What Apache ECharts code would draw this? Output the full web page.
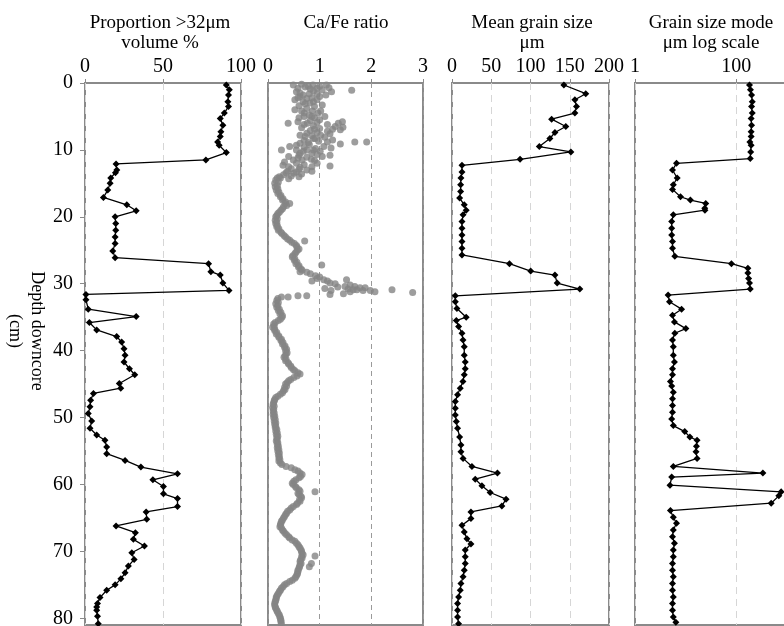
<!DOCTYPE html>
<html>
<head>
<meta charset="utf-8">
<script src="https://cdn.jsdelivr.net/npm/echarts@6/dist/echarts.min.js"></script>
<style>html,body{margin:0;padding:0;background:#fff}#chart{width:784px;height:626px}</style>
</head>
<body>
<div id="chart"></div>
<script>
// ---------- DATA ----------
const panelTitles = ['Proportion >32\u03bcm\nvolume %', 'Ca/Fe ratio', 'Mean grain size\n\u03bcm', 'Grain size mode\n\u03bcm log scale'];
const yAxisTitle = 'Depth downcore\n(cm)';

// Proportion >32um (volume %)
const propDepth = [0.3,1.0,1.8,2.8,3.5,4.5,5.3,6.3,7.3,8.0,8.8,9.3,10.4,11.5,12.1,13.0,13.4,14.2,15.0,16.0,17.1,18.2,19.1,20.0,21.0,22.0,23.0,24.0,25.1,26.1,27.0,28.2,28.7,29.9,31.0,31.6,32.4,33.8,34.9,35.8,36.9,37.9,38.7,39.7,40.7,41.7,42.7,43.6,44.9,45.6,46.4,47.4,48.4,49.4,50.5,51.6,52.6,53.4,54.4,55.4,56.4,57.4,58.4,59.3,60.3,61.4,62.1,63.3,64.1,65.2,66.2,67.2,68.2,69.2,70.2,71.2,72.2,73.2,74.1,75.0,75.8,76.9,77.8,78.3,78.8,79.7,80.8];
const propValue = [90.6,92.5,92,91.6,92,89.3,86.7,88.4,87.1,86.7,85,86,90.6,77.5,19.9,20.4,19.5,16.5,16.1,14.6,11.8,26.8,32.8,19.3,19.7,19.7,19.3,19.3,17.8,19.3,79.2,80.7,86.7,88.4,92.3,0.6,0.6,2.1,32.8,2.8,7.5,20.3,23.5,25,25.7,25,28.5,31.9,22,22.9,5.4,3.6,3.2,2.1,4.3,3.2,7.5,12.8,13.9,13.9,25.7,35.8,59.3,43.5,50.3,50.3,59.3,59.3,39.2,39.6,19.9,32.3,31,38.1,30,31.5,27.8,25.7,23,19.3,13.9,9.6,8,7.5,7.5,8,8.5];

// Ca/Fe ratio: [ratio, depth]
const caFeTop = [[0.49,0.3],[0.65,0.2],[0.87,0.3],[1.13,0.3],[0.72,0.6],[0.78,0.5],[0.95,0.8],[1.23,1.3],[1.62,1.1],[0.55,1.3],[0.68,1.8],[0.80,1.6],[0.88,1.2],[1.05,1.0],[0.62,2.0],[0.75,2.3],[0.52,2.5],[0.68,2.8],[0.88,2.8],[0.81,3.0],[0.95,2.5],[1.05,3.3],[0.60,3.4],[0.52,4.0],[0.75,3.8],[0.86,4.2],[0.70,4.5],[0.97,4.5],[1.10,5.0],[0.90,5.2],[0.70,5.0],[0.82,5.6],[0.95,5.9],[0.58,5.8],[0.39,6.0],[0.76,6.0],[1.15,6.2],[0.88,6.4],[0.65,6.7],[1.00,6.8],[1.36,6.0],[1.44,5.8],[1.30,6.5],[1.40,7.0],[1.45,6.6],[0.82,7.1],[1.15,7.2],[0.75,7.5],[0.95,7.4],[1.02,7.8],[0.85,7.9],[0.72,8.0],[1.20,7.6],[0.91,8.3],[1.10,8.1],[0.70,8.6],[0.98,8.7],[1.25,8.5],[1.40,9.1],[1.68,8.8],[1.91,8.8],[0.62,9.0],[0.80,9.2],[1.08,9.5],[0.92,9.8],[0.42,9.5],[0.26,10.0],[0.55,10.0],[0.75,10.0],[0.68,10.2],[1.01,10.2],[0.85,10.5],[0.60,10.8],[1.20,10.8],[1.05,11.0],[0.75,11.1],[0.49,11.5],[0.66,11.5],[0.84,11.4],[0.32,11.8],[0.55,12.0],[0.95,12.0],[0.70,12.2],[1.20,12.4],[0.29,12.3],[0.85,12.5],[0.45,12.8],[0.62,12.6],[0.38,13.2],[0.55,13.3],[0.75,13.0],[0.50,13.5],[0.30,13.7],[0.45,13.9],[0.60,14.0],[0.22,14.0],
  [0.58,0.8],[0.82,0.9],[1.00,0.5],[1.18,0.7],[0.62,1.5],[0.95,1.6],[1.12,1.8],[0.58,2.2],[0.85,2.2],[1.00,2.0],[0.72,3.1],[0.90,3.5],[0.65,4.2],[0.80,4.8],[1.02,4.2],[0.60,5.2],[0.85,5.0],[1.00,5.5],[0.70,6.2],[0.90,6.9],[1.25,6.9],[0.62,7.8],[0.88,8.3],[1.15,8.8],[0.78,8.9],[0.55,9.3],[0.70,9.6],[1.22,9.7],[0.88,10.0],[0.62,10.5],[0.95,10.7],[0.40,11.0],[0.58,11.2],[0.90,11.6],[0.40,12.5],[0.60,12.9],[0.85,13.2],[0.35,13.4],[0.65,13.6],[0.40,14.3]];
const caFeUpper = [[0.18,14.2],[0.24,14.2],[0.15,14.5],[0.20,14.8],[0.13,15.0],[0.18,15.3],[0.14,15.5],[0.19,15.8],[0.16,16.0],[0.21,16.3],[0.19,16.5],[0.25,16.8],[0.24,17.0],[0.29,17.3],[0.28,17.5],[0.34,17.8],[0.33,18.0],[0.36,18.3],[0.42,18.0],[0.30,18.5],[0.28,18.8],[0.25,19.0],[0.22,19.3],[0.19,19.5],[0.17,19.8],[0.15,20.0],[0.18,20.3],[0.14,20.5],[0.17,20.8],[0.15,21.0],[0.18,21.3],[0.17,21.5],[0.21,21.8],[0.20,22.0],[0.25,22.3],[0.27,22.5],[0.31,22.8],[0.34,23.0],[0.38,23.3],[0.42,23.5],[0.71,23.6],[0.46,23.8],[0.51,24.0],[0.55,24.3],[0.56,24.5],[0.60,24.8],[0.57,25.0],[0.54,25.3],[0.52,25.5],[0.48,25.8],[0.47,26.0],[0.52,26.3],[0.51,26.5],[0.56,26.8],[0.54,27.0],[1.04,27.2],[0.60,27.3],[0.59,27.5],[0.64,27.8],[0.66,28.0],[0.62,28.2],[0.75,28.3],[0.82,28.5],[0.92,28.8],[1.00,29.0],[0.95,29.2],[1.08,29.4],[1.52,29.4],[0.85,29.6],[1.15,29.6],[1.20,29.9],[1.30,30.0],[1.59,30.2],[1.68,30.4],[1.49,30.4],[1.35,30.5],[1.78,30.6],[1.88,30.6],[1.10,30.7],[1.55,30.8],[1.72,30.9],[1.65,30.9],[1.84,31.0],[1.22,31.0],[1.59,31.2],[1.46,31.5],[1.20,31.6],[2.80,31.3],[2.40,30.9],[2.07,31.2],[1.98,31.0],[0.75,31.8],[0.58,31.8],[0.39,32.0],[0.26,32.0],[0.19,32.2]];
const caFeLower = [[0.17,32.5],[0.20,32.8],[0.15,33.0],[0.19,33.3],[0.17,33.5],[0.22,33.8],[0.20,34.0],[0.25,34.3],[0.23,34.5],[0.28,34.8],[0.27,35.0],[0.24,35.3],[0.20,35.5],[0.14,35.8],[0.11,36.0],[0.12,36.3],[0.09,36.5],[0.13,36.8],[0.13,37.0],[0.17,37.3],[0.16,37.5],[0.21,37.8],[0.21,38.0],[0.26,38.3],[0.25,38.5],[0.29,38.8],[0.28,39.0],[0.33,39.3],[0.32,39.5],[0.36,39.8],[0.34,40.0],[0.37,40.3],[0.35,40.5],[0.33,40.8],[0.31,41.0],[0.35,41.3],[0.34,41.5],[0.39,41.8],[0.40,42.0],[0.44,42.3],[0.45,42.5],[0.49,42.8],[0.52,43.0],[0.58,43.3],[0.62,43.5],[0.56,43.8],[0.50,44.0],[0.44,44.3],[0.40,44.5],[0.37,44.8],[0.34,45.0],[0.36,45.3],[0.32,45.5],[0.33,45.8],[0.30,46.0],[0.28,46.3],[0.24,46.5],[0.19,46.8],[0.15,47.0],[0.13,47.3],[0.12,47.5],[0.11,47.8],[0.10,48.0],[0.12,48.3],[0.09,48.5],[0.11,48.8],[0.10,49.0],[0.12,49.3],[0.10,49.5],[0.13,49.8],[0.11,50.0],[0.14,50.3],[0.12,50.5],[0.15,50.8],[0.13,51.0],[0.15,51.3],[0.14,51.5],[0.17,51.8],[0.15,52.0],[0.18,52.3],[0.16,52.5],[0.19,52.8],[0.17,53.0],[0.18,53.3],[0.16,53.5],[0.19,53.8],[0.18,54.0],[0.20,54.3],[0.18,54.5],[0.21,54.8],[0.19,55.0],[0.22,55.3],[0.20,55.5],[0.22,55.8],[0.21,56.0],[0.23,56.3],[0.21,56.5],[0.24,56.8],[0.27,57.0],[0.35,57.3],[0.45,57.5],[0.52,57.8],[0.58,58.0],[0.62,58.3],[0.66,58.5],[0.63,58.8],[0.60,59.0],[0.54,59.3],[0.50,59.5],[0.47,59.8],[0.49,60.0],[0.53,60.3],[0.55,60.5],[0.60,60.8],[0.62,61.0],[0.91,61.1],[0.58,61.3],[0.60,61.5],[0.64,61.8],[0.65,62.0],[0.61,62.3],[0.62,62.5],[0.57,62.8],[0.55,63.0],[0.49,63.3],[0.45,63.5],[0.42,63.8],[0.38,64.0],[0.36,64.3],[0.34,64.5],[0.32,64.8],[0.30,65.0],[0.28,65.3],[0.26,65.5],[0.25,65.8],[0.24,66.0],[0.23,66.3],[0.26,66.5],[0.28,66.8],[0.30,67.0],[0.33,67.3],[0.36,67.5],[0.40,67.8],[0.42,68.0],[0.47,68.3],[0.52,68.5],[0.55,68.8],[0.58,69.0],[0.60,69.3],[0.62,69.5],[0.64,69.8],[0.65,70.0],[0.66,70.3],[0.68,70.5],[0.91,70.7],[0.65,70.8],[0.66,71.0],[0.63,71.3],[0.62,71.5],[0.64,71.8],[0.84,71.8],[0.62,72.0],[0.80,72.3],[0.61,72.3],[0.60,72.5],[0.58,72.8],[0.58,73.0],[0.57,73.3],[0.56,73.5],[0.54,73.8],[0.52,74.0],[0.47,74.3],[0.42,74.5],[0.36,74.8],[0.32,75.0],[0.29,75.3],[0.26,75.5],[0.24,75.8],[0.22,76.0],[0.20,76.3],[0.18,76.5],[0.16,76.8],[0.16,77.0],[0.15,77.3],[0.14,77.5],[0.13,77.8],[0.13,78.0],[0.14,78.3],[0.15,78.5],[0.17,78.8],[0.18,79.0],[0.20,79.3],[0.22,79.5],[0.23,79.8],[0.24,80.0],[0.25,80.3],[0.25,80.5],[0.26,80.8]];

// Mean grain size (um)
const meanDepth = [0.3,1.6,2.5,3.5,4.5,5.4,6.5,7.4,8.3,9.5,10.3,11.4,12.3,13.3,14.2,15.2,16.2,17.2,18.2,19.0,19.7,20.7,21.7,22.7,23.7,24.7,25.7,27.0,28.1,28.7,29.9,30.8,31.8,32.7,33.7,35.0,35.5,36.4,37.4,38.4,39.4,40.7,41.7,42.7,43.6,44.6,45.6,46.6,47.6,48.6,49.6,50.6,51.6,52.9,54.1,55.1,56.1,57.3,58.3,59.2,60.2,61.2,62.2,63.2,64.1,65.1,66.1,67.1,68.1,68.9,69.8,70.8,71.8,72.8,73.8,74.8,75.8,76.8,77.8,78.8,79.8,80.8];
const meanValue = [142.5,170.4,156.5,158.6,156.5,126.9,145,131.1,124.7,111.2,151.4,86.7,12.7,12.7,11.4,11,11,9.7,15.6,18.1,14.1,12.7,12.7,12.7,12.7,12.7,12.7,73.2,100.2,131.1,134,162.8,4.2,4.2,6.3,18.1,5.5,8.4,12.7,14,15.6,15.6,16.9,16.9,15.6,13.9,10.5,7.1,4.2,4.2,4.2,5.5,7.1,9.7,11.4,11.4,14.1,25.4,57.9,29.6,38.1,48.6,68.9,63.5,24.1,24.1,12.7,15.6,19,24.1,16.9,16.9,16.9,15.6,14.1,11.4,10.5,8.4,7.1,7.1,7.1,8.4];

// Grain size mode (um, log scale)
const modeDepth = [0.3,1.0,1.8,2.8,3.5,4.5,5.3,6.3,7.3,8.0,8.8,9.3,10.3,11.3,12.0,13.0,14.2,15.2,15.9,17.0,17.5,18.0,18.7,19.0,19.7,20.7,21.7,22.7,23.7,24.7,25.9,27.0,27.7,28.4,29.2,29.9,30.8,31.7,32.7,33.8,34.7,35.7,36.7,37.4,38.4,39.4,40.7,41.7,42.7,43.6,44.6,45.3,46.2,47.2,48.2,49.2,50.2,51.2,52.1,52.9,53.4,54.3,55.1,56.1,57.3,58.3,58.9,60.1,61.1,61.7,62.8,63.9,64.9,65.8,66.8,67.8,68.8,69.8,70.8,71.8,72.8,73.8,74.8,75.8,76.8,77.8,78.8,79.8,80.6];
const modeValue = [182,190,200,206,200,206,196,200,196,196,185,196,192,188,6.6,5.5,6.8,5.7,5.5,7.9,12.4,24.9,23.8,24,5.7,5.3,5.3,5.3,5.5,5.5,6.1,80,169,169,175,182,188,4.5,4.8,8.3,5.5,6.0,10.1,6.1,5.5,5.7,5.7,6.0,5.5,5.5,5.0,5.3,5.7,5.5,5.5,5.5,5.3,5.7,9.6,12.1,16.8,16.3,16,16.8,5.7,334,5.3,4.9,767,689,488,5.0,5.7,6.6,5.7,5.5,6.0,5.7,5.7,5.5,5.5,5.7,5.5,5.5,5.7,5.5,5.5,5.7,6.4];

// ---------- CHART ----------
const FONT = '"Liberation Serif", "DejaVu Serif", serif';
const TOP = 83, H = 542;
const panels = [
  {left: 85, width: 156},
  {left: 268, width: 155},
  {left: 452, width: 157},
  {left: 635, width: 152}
];
const pair = (d, v) => d.map((dd, i) => [v[i], dd]);

const grids = panels.map(p => ({left: p.left, top: TOP, width: p.width, height: H, show: true,
  borderColor: '#8a8a8a', borderWidth: 2, backgroundColor: 'rgba(0,0,0,0)', containLabel: false,
  outerBoundsMode: 'none'}));

const xLabel = {fontSize: 20, fontFamily: FONT, color: '#000', margin: 6};
const xTick = {show: true, length: 4, lineStyle: {color: '#8a8a8a', width: 1}};
const lightSplit = {show: true, lineStyle: {type: [7, 5], color: '#d6d6d6', width: 1}};

const xAxes = [
  {gridIndex: 0, type: 'value', position: 'top', min: 0, max: 100, interval: 50,
   axisLine: {show: false}, axisTick: xTick, axisLabel: xLabel, splitLine: lightSplit},
  {gridIndex: 1, type: 'value', position: 'top', min: 0, max: 3, interval: 1,
   axisLine: {show: false}, axisTick: xTick, axisLabel: xLabel,
   splitLine: {show: true, lineStyle: {type: [5, 4], color: '#9a9a9a', width: 1}}},
  {gridIndex: 2, type: 'value', position: 'top', min: 0, max: 200, interval: 50,
   axisLine: {show: false}, axisTick: xTick, axisLabel: xLabel, splitLine: lightSplit},
  {gridIndex: 3, type: 'log', logBase: 100, position: 'top', min: 1, max: 1000,
   axisLine: {show: false}, axisTick: xTick, axisLabel: Object.assign({}, xLabel, {showMaxLabel: false}),
   splitLine: lightSplit}
];

const yAxes = panels.map((p, i) => ({
  gridIndex: i, type: 'value', inverse: true, min: 0, max: 81, interval: 10,
  axisLine: {show: false},
  axisTick: {show: i === 0, length: 5, lineStyle: {color: '#8a8a8a'}},
  axisLabel: {show: i === 0, fontSize: 20, fontFamily: FONT, color: '#000', margin: 12, showMaxLabel: false},
  splitLine: {show: false}
}));

const lineSeries = (idx, data) => ({
  type: 'line', xAxisIndex: idx, yAxisIndex: idx, data: data,
  symbol: 'diamond', symbolSize: 7, showSymbol: true,
  lineStyle: {color: '#000', width: 1.3}, itemStyle: {color: '#000'},
  silent: true, clip: true
});

const titleCenters = [160, 346, 532, 711];
const graphics = panelTitles.map((t, i) => ({
  type: 'text', x: titleCenters[i], y: 13, silent: true,
  style: {text: t, fontSize: 19, fontFamily: FONT, fill: '#000', lineHeight: 20,
          align: 'center', verticalAlign: 'top', textAlign: 'center', textVerticalAlign: 'top'}
}));
graphics.push({
  type: 'text', x: 26, y: 331, rotation: -Math.PI / 2, silent: true,
  style: {text: yAxisTitle, fontSize: 18, fontFamily: FONT, fill: '#000', lineHeight: 22,
          align: 'center', verticalAlign: 'middle', textAlign: 'center', textVerticalAlign: 'middle'}
});

const option = {
  animation: false,
  backgroundColor: '#fff',
  grid: grids,
  xAxis: xAxes,
  yAxis: yAxes,
  graphic: graphics,
  series: [
    lineSeries(0, pair(propDepth, propValue)),
    {type: 'scatter', xAxisIndex: 1, yAxisIndex: 1, data: caFeTop.concat(caFeUpper, caFeLower),
     symbol: 'circle', symbolSize: 7, itemStyle: {color: '#858585'}, silent: true},
    lineSeries(2, pair(meanDepth, meanValue)),
    lineSeries(3, pair(modeDepth, modeValue))
  ]
};

const chart = echarts.init(document.getElementById('chart'), null, {renderer: 'canvas'});
chart.setOption(option);
</script>
</body>
</html>
